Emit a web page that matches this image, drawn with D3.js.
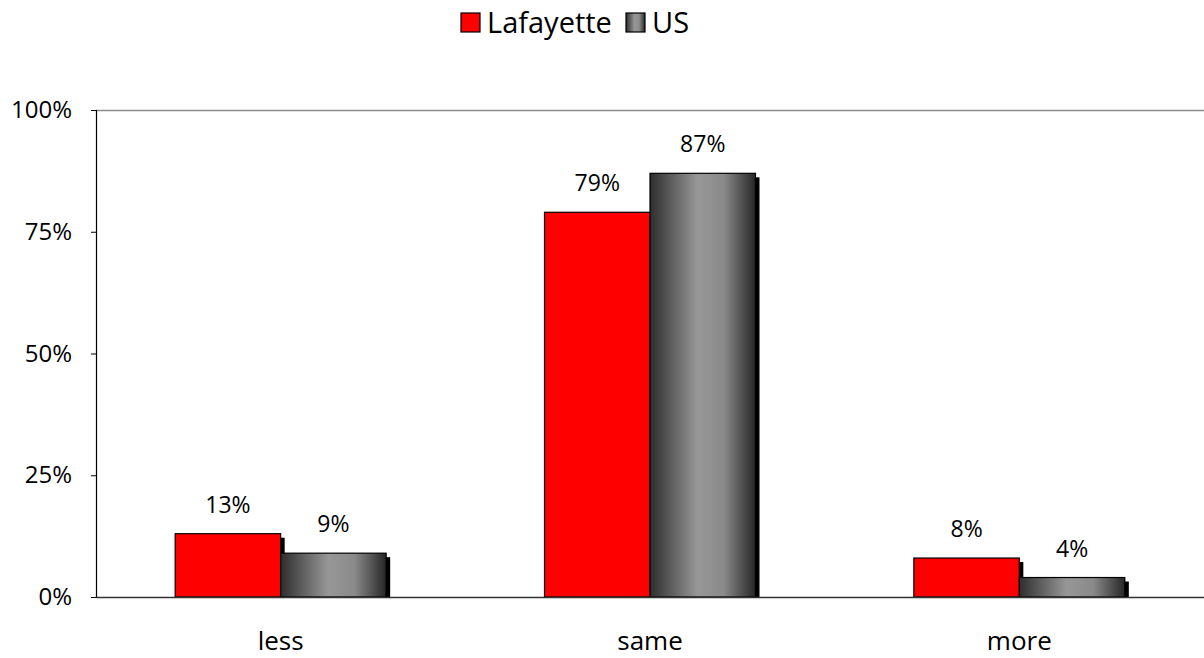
<!DOCTYPE html>
<html>
<head>
<meta charset="utf-8">
<script src="https://cdn.jsdelivr.net/npm/d3@7"></script>
<style>
  body { margin: 0; background: #fff; }
  svg { display: block; font-family: "Open Sans", "DejaVu Sans", sans-serif; }
</style>
</head>
<body>
<svg id="chart" width="1204" height="658"></svg>
<script>
const categories = ["less", "same", "more"];
const seriesNames = ["Lafayette", "US"];
const lafayette = [13, 79, 8];
const us = [9, 87, 4];
const yTicks = [0, 25, 50, 75, 100];

const W = 1204, H = 658;
const m = { top: 110, right: 0, bottom: 61, left: 96 };
const groupWidth = 211;
const FONT = '"Open Sans", "DejaVu Sans", sans-serif';
const svg = d3.select("#chart");

// horizontal metallic gradient for the US bars
const defs = svg.append("defs");
const grad = defs.append("linearGradient").attr("id", "usGrad")
  .attr("x1", "0%").attr("x2", "100%").attr("y1", "0%").attr("y2", "0%");
[[0, "#2e2e2e"], [0.45, "#979797"], [0.7, "#8a8a8a"], [1, "#262626"]]
  .forEach(([o, c]) => grad.append("stop").attr("offset", o).attr("stop-color", c));

const x0 = d3.scaleBand().domain(categories).range([m.left, W - m.right]);
const x1 = d3.scaleBand().domain(seriesNames).range([0, groupWidth]);
const y = d3.scaleLinear().domain([0, 100]).range([H - m.bottom, m.top]);

// top edge of the plot area
svg.append("line").attr("x1", m.left).attr("x2", W).attr("y1", y(100) + 0.5).attr("y2", y(100) + 0.5)
  .attr("stroke", "#8c8c8c").attr("stroke-width", 1.5);

const rows = categories.map((c, i) => ({ cat: c, vals: [
  { s: "Lafayette", v: lafayette[i] }, { s: "US", v: us[i] } ] }));

const groups = svg.append("g").selectAll("g.grp").data(rows).join("g")
  .attr("transform", d => `translate(${x0(d.cat) + (x0.bandwidth() - groupWidth) / 2},0)`);

// drop shadows behind the bars
groups.selectAll("rect.shadow").data(d => d.vals).join("rect").attr("class", "shadow")
  .attr("x", d => x1(d.s) + 4).attr("y", d => y(d.v) + 4)
  .attr("width", x1.bandwidth()).attr("height", d => y(0) - y(d.v) - 4)
  .attr("fill", "#000");

groups.selectAll("rect.bar").data(d => d.vals).join("rect").attr("class", "bar")
  .attr("x", d => x1(d.s)).attr("y", d => y(d.v))
  .attr("width", x1.bandwidth()).attr("height", d => y(0) - y(d.v))
  .attr("fill", d => d.s === "US" ? "url(#usGrad)" : "#ff0000")
  .attr("stroke", "#000").attr("stroke-width", 1.2);

groups.selectAll("text.lbl").data(d => d.vals).join("text").attr("class", "lbl")
  .attr("x", d => x1(d.s) + x1.bandwidth() / 2).attr("y", d => y(d.v) - 21)
  .attr("text-anchor", "middle").attr("font-size", 23).attr("fill", "#000")
  .text(d => d.v + "%");

// axes
const yAxis = svg.append("g").attr("transform", `translate(${m.left},0)`)
  .call(d3.axisLeft(y).tickValues(yTicks).tickSize(5).tickPadding(19).tickFormat(d => d + "%"))
  .attr("font-family", FONT);
yAxis.select(".domain").attr("stroke", "#000").attr("stroke-width", 1.2);
yAxis.selectAll(".tick line").attr("stroke", "#000");
yAxis.selectAll("text").attr("font-size", 24).attr("fill", "#000");

const xAxis = svg.append("g").attr("transform", `translate(0,${y(0)})`)
  .call(d3.axisBottom(x0).tickSize(0).tickPadding(35))
  .attr("font-family", FONT);
xAxis.select(".domain").attr("stroke", "#333").attr("stroke-width", 1.5);
xAxis.selectAll("text").attr("font-size", 26).attr("fill", "#000");

// legend
const legend = svg.append("g");
const legItems = [{ name: "Lafayette", fill: "#ff0000", x: 461 }, { name: "US", fill: "url(#usGrad)", x: 626 }];
legItems.forEach(it => {
  legend.append("rect").attr("x", it.x).attr("y", 13).attr("width", 19).attr("height", 19)
    .attr("fill", it.fill).attr("stroke", "#000").attr("stroke-width", 1.2);
  legend.append("text").attr("x", it.x + 26).attr("y", 33).attr("font-size", 29).attr("fill", "#000").text(it.name);
});
</script>
</body>
</html>
